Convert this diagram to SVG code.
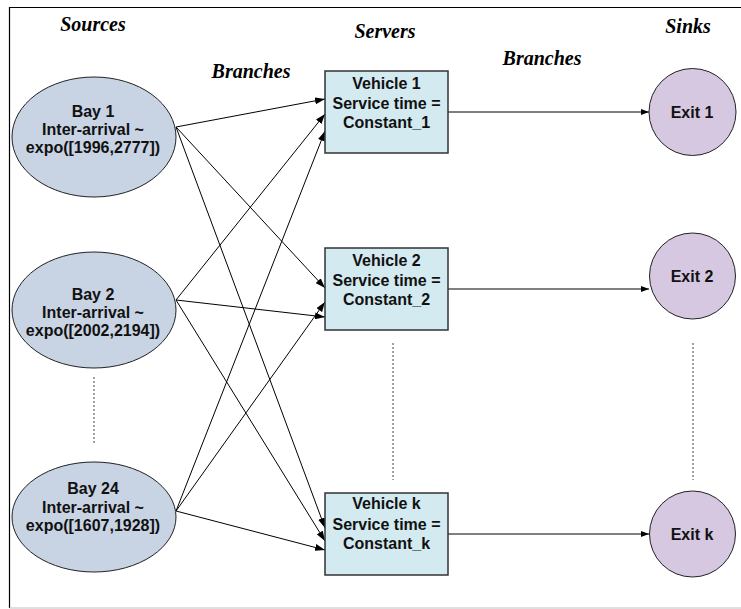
<svg xmlns="http://www.w3.org/2000/svg" width="741" height="609" viewBox="0 0 741 609">
<defs>
<style>
.title{font-family:"Liberation Serif","Times New Roman",serif;font-weight:bold;font-style:italic;font-size:20px;fill:#000;text-anchor:middle}
.lbl{font-family:"Liberation Sans",Arial,sans-serif;font-weight:bold;font-size:16px;fill:#111;text-anchor:middle}
.src{fill:#c8d4e4;stroke:#222;stroke-width:1}
.srv{fill:#d3eaf0;stroke:#333;stroke-width:1.5}
.snk{fill:#d5c8e0;stroke:#222;stroke-width:1}
.edge{stroke:#000;stroke-width:1;fill:none;marker-end:url(#ah)}
.out{stroke:#000;stroke-width:1;fill:none;marker-end:url(#ah2)}
.dots{stroke:#444;stroke-width:1;stroke-dasharray:2,2;fill:none}
</style>
<marker id="ah" viewBox="0 0 10 7" refX="10" refY="3.5" markerWidth="10" markerHeight="7" markerUnits="userSpaceOnUse" orient="auto">
<path d="M0,0 L10,3.5 L0,7 z" fill="#000"/>
</marker>
<marker id="ah2" viewBox="0 0 8 6" refX="8" refY="3" markerWidth="8" markerHeight="6" markerUnits="userSpaceOnUse" orient="auto">
<path d="M0,0 L8,3 L0,6 z" fill="#000"/>
</marker>
</defs>
<rect x="0" y="0" width="741" height="609" fill="#fff"/>
<path d="M9.5,608 L9.5,7.5 L741,7.5" stroke="#000" stroke-width="1.2" fill="none"/>
<path d="M9.5,608 L741,608" stroke="#c0c0c0" stroke-width="1.2" fill="none"/>

<g id="titles">
<text class="title" x="93" y="31">Sources</text>
<text class="title" x="385" y="38">Servers</text>
<text class="title" x="688" y="33">Sinks</text>
<text class="title" x="251" y="78">Branches</text>
<text class="title" x="542" y="65">Branches</text>
</g>

<g id="connectors">
<line class="edge" x1="176" y1="127" x2="325" y2="99"/>
<line class="edge" x1="176" y1="127" x2="325" y2="288"/>
<line class="edge" x1="176" y1="127" x2="325" y2="528"/>
<line class="edge" x1="176" y1="300" x2="325" y2="114"/>
<line class="edge" x1="176" y1="300" x2="325" y2="317"/>
<line class="edge" x1="176" y1="300" x2="325" y2="541"/>
<line class="edge" x1="176" y1="511" x2="325" y2="131"/>
<line class="edge" x1="176" y1="511" x2="325" y2="302"/>
<line class="edge" x1="176" y1="511" x2="325" y2="550"/>
<line class="out" x1="448" y1="112" x2="649" y2="112"/>
<line class="out" x1="448" y1="289" x2="649" y2="289"/>
<line class="out" x1="448" y1="534" x2="649" y2="534"/>
<line class="dots" x1="94" y1="377" x2="94" y2="443"/>
<line class="dots" x1="393" y1="343" x2="393" y2="480"/>
<line class="dots" x1="693" y1="343" x2="693" y2="480"/>
</g>

<g id="bay1">
<ellipse class="src" cx="94" cy="137" rx="82" ry="60"/>
<text class="lbl" x="93" y="117">Bay 1</text>
<text class="lbl" x="93" y="135">Inter-arrival ~</text>
<text class="lbl" x="93" y="153">expo([1996,2777])</text>
</g>
<g id="bay2">
<ellipse class="src" cx="94" cy="310" rx="82" ry="58"/>
<text class="lbl" x="93" y="300">Bay 2</text>
<text class="lbl" x="93" y="318">Inter-arrival ~</text>
<text class="lbl" x="93" y="336">expo([2002,2194])</text>
</g>
<g id="bay24">
<ellipse class="src" cx="94" cy="517" rx="82" ry="55"/>
<text class="lbl" x="93" y="494">Bay 24</text>
<text class="lbl" x="93" y="513">Inter-arrival ~</text>
<text class="lbl" x="93" y="531">expo([1607,1928])</text>
</g>

<g id="vehicle1">
<rect class="srv" x="325" y="71" width="123" height="82"/>
<text class="lbl" x="386.5" y="89">Vehicle 1</text>
<text class="lbl" x="386.5" y="109">Service time =</text>
<text class="lbl" x="386.5" y="128">Constant_1</text>
</g>
<g id="vehicle2">
<rect class="srv" x="325" y="248" width="123" height="82"/>
<text class="lbl" x="386.5" y="266">Vehicle 2</text>
<text class="lbl" x="386.5" y="286">Service time =</text>
<text class="lbl" x="386.5" y="305">Constant_2</text>
</g>
<g id="vehiclek">
<rect class="srv" x="325" y="493" width="123" height="82"/>
<text class="lbl" x="386.5" y="509">Vehicle k</text>
<text class="lbl" x="386.5" y="530">Service time =</text>
<text class="lbl" x="386.5" y="549">Constant_k</text>
</g>

<g id="exit1">
<circle class="snk" cx="692.5" cy="112" r="43.5"/>
<text class="lbl" x="692" y="118">Exit 1</text>
</g>
<g id="exit2">
<circle class="snk" cx="692.5" cy="276" r="43"/>
<text class="lbl" x="692" y="282">Exit 2</text>
</g>
<g id="exitk">
<circle class="snk" cx="692.5" cy="534" r="43"/>
<text class="lbl" x="692" y="540">Exit k</text>
</g>
</svg>
